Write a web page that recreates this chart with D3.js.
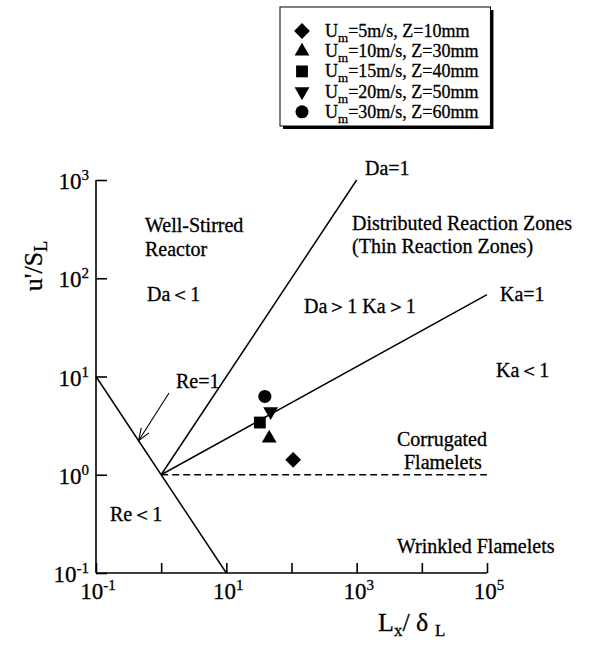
<!DOCTYPE html>
<html>
<head>
<meta charset="utf-8">
<script src="https://cdn.jsdelivr.net/npm/d3@7/dist/d3.min.js"></script>
<style>
  html, body { margin: 0; padding: 0; background: #fff; }
  svg { display: block; }
  svg text { font-family: "Liberation Serif", "Times New Roman", Times, "DejaVu Serif", serif; fill: #000; stroke: #000; stroke-width: 0.3px; }
</style>
</head>
<body>
<svg id="chart" width="611" height="646" font-family="Liberation Serif, Times New Roman, serif"></svg>
<script>
// Measurement cases: mean velocity U_m (m/s) and height Z (mm)
const speeds = [5, 10, 15, 20, 30];
const heights = [10, 30, 40, 50, 60];
const lengthRatio = [106, 45.5, 32.7, 47.8, 39];     // L_x / delta_L
const velocityRatio = [1.42, 2.35, 3.4, 4.4, 6.26];  // u' / S_L
const markers = ["diamond", "triangle", "square", "triangleDown", "circle"];

// Regime boundaries in (L_x/delta_L, u'/S_L)
const reLine = [[0.1, 10], [10, 0.1]];
const daLine = [[1, 1], [1000, 1000]];
const kaLine = [[1, 1], [1e5, 68]];
const unityLine = [[1, 1], [1e5, 1]];
const arrowTarget = [0.45, 1 / 0.45];   // point on Re=1 the arrow points to

// Axis decades
const xTickValues = [0.1, 1, 10, 100, 1000, 10000, 100000];
const xLabelExps = [-1, 1, 3, 5];
const yTickValues = [0.1, 1, 10, 100, 1000];
const yLabelExps = [-1, 0, 1, 2, 3];

const svg = d3.select("#chart");
const x = d3.scaleLog().domain([0.1, 1e5]).range([96, 487]);
const y = d3.scaleLog().domain([0.1, 1e3]).range([573, 180]);

// Axes with inward ticks
const gx = svg.append("g").attr("transform", `translate(0,${y(0.1)})`)
  .call(d3.axisBottom(x).tickValues(xTickValues).tickSize(-10).tickFormat(""));
const gy = svg.append("g").attr("transform", `translate(${x(0.1)},0)`)
  .call(d3.axisLeft(y).tickValues(yTickValues).tickSize(-11).tickFormat(""));
[gx, gy].forEach(g => {
  g.selectAll("path.domain").attr("stroke", "#000").attr("stroke-width", 1.6);
  g.selectAll(".tick line").attr("stroke", "#000").attr("stroke-width", 1.6);
});
gx.select("path.domain").attr("d", `M${x(0.1)},0H${x(1e5)}`);
gy.select("path.domain").attr("d", `M0,${y(1e3)}V${y(0.1)}`);

// Power-of-ten labels
function powerLabel(exp, px, py, anchor) {
  const t = svg.append("text").attr("x", px).attr("y", py)
    .attr("text-anchor", anchor).style("font-size", "23px");
  t.append("tspan").text("10");
  t.append("tspan").attr("dy", -9).style("font-size", "15px").text(String(exp));
  return t;
}
xLabelExps.forEach(e => powerLabel(e, x(Math.pow(10, e)) + 2, 599, "middle"));
yLabelExps.forEach(e => powerLabel(e, 89, y(Math.pow(10, e)) + 9, "end"));

// Axis titles
const yt = svg.append("text")
  .attr("transform", "translate(42,266) rotate(-90)")
  .attr("text-anchor", "middle").style("font-size", "26px");
yt.append("tspan").text("u'/S");
yt.append("tspan").attr("dy", 5).style("font-size", "18px").text("L");

const xt = svg.append("text").attr("x", 378).attr("y", 631).style("font-size", "26px");
xt.append("tspan").text("L");
xt.append("tspan").attr("dy", 5).style("font-size", "17px").text("x");
xt.append("tspan").attr("dy", -5).text("/ δ ");
xt.append("tspan").attr("dy", 5).style("font-size", "17px").text("L");

// Regime boundary lines
const line = d3.line().x(d => x(d[0])).y(d => y(d[1]));
[reLine, daLine, kaLine].forEach(seg => {
  svg.append("path").attr("d", line(seg)).attr("fill", "none")
    .attr("stroke", "#000").attr("stroke-width", 1.5);
});
svg.append("path").attr("d", line(unityLine)).attr("fill", "none")
  .attr("stroke", "#000").attr("stroke-width", 1.3).attr("stroke-dasharray", "7,4");

// Arrow pointing at the Re=1 line
const arrowTip = [x(arrowTarget[0]), y(arrowTarget[1])];
const arrowStart = [169, 393];
svg.append("line").attr("x1", arrowStart[0]).attr("y1", arrowStart[1])
  .attr("x2", arrowTip[0]).attr("y2", arrowTip[1])
  .attr("stroke", "#000").attr("stroke-width", 1.1);
{
  const ang = Math.atan2(arrowTip[1] - arrowStart[1], arrowTip[0] - arrowStart[0]);
  const len = 13, spread = 0.36;
  const p1 = [arrowTip[0] - len * Math.cos(ang - spread), arrowTip[1] - len * Math.sin(ang - spread)];
  const p2 = [arrowTip[0] - len * Math.cos(ang + spread), arrowTip[1] - len * Math.sin(ang + spread)];
  svg.append("path").attr("d", `M${p1}L${arrowTip}L${p2}`).attr("fill", "none")
    .attr("stroke", "#000").attr("stroke-width", 1.1);
}

// Region and boundary annotations
const labels = [
  ["Well-Stirred", 145, 232], ["Reactor", 145, 256], ["Da＜1", 147, 301],
  ["Distributed Reaction Zones", 352, 230], ["(Thin Reaction Zones)", 352, 253],
  ["Da＞1 Ka＞1", 304, 313], ["Da=1", 365, 175], ["Ka=1", 500, 301],
  ["Ka＜1", 496, 377], ["Corrugated", 397, 446], ["Flamelets", 404, 469],
  ["Wrinkled Flamelets", 397, 553], ["Re=1", 176, 388], ["Re＜1", 110, 521]
];
labels.forEach(([t, lx, ly]) => {
  svg.append("text").attr("x", lx).attr("y", ly).style("font-size", "20px").text(t);
});

// Marker shapes
function markerPath(kind) {
  switch (kind) {
    case "diamond": return d3.symbol(d3.symbolSquare, 125)();
    case "triangle": return d3.symbol(d3.symbolTriangle, 95)();
    case "square": return d3.symbol(d3.symbolSquare, 140)();
    case "triangleDown": return d3.symbol(d3.symbolTriangle, 95)();
    case "circle": return d3.symbol(d3.symbolCircle, 135)();
  }
}
function markerRotation(kind) {
  return kind === "diamond" ? 45 : kind === "triangleDown" ? 180 : 0;
}

svg.append("g").selectAll("path").data(d3.range(speeds.length)).join("path")
  .attr("d", i => markerPath(markers[i]))
  .attr("transform", i => `translate(${x(lengthRatio[i])},${y(velocityRatio[i])}) rotate(${markerRotation(markers[i])})`)
  .attr("fill", "#000");

// Legend box with drop shadow, sized to its entries
const lg = svg.append("g");
const shadow = lg.append("rect").attr("fill", "#000");
const frame = lg.append("rect").attr("fill", "#fff").attr("stroke", "#000").attr("stroke-width", 1);
const entries = lg.append("g");
let textRight = 0;
speeds.forEach((s, i) => {
  const ry = 31 + i * 20.2;
  entries.append("path").attr("d", markerPath(markers[i]))
    .attr("transform", `translate(302,${ry}) rotate(${markerRotation(markers[i])})`)
    .attr("fill", "#000");
  const t = entries.append("text").attr("x", 325).attr("y", ry + 6).style("font-size", "18px");
  t.append("tspan").text("U");
  t.append("tspan").attr("dy", 5).style("font-size", "13px").text("m");
  t.append("tspan").attr("dy", -5).text(`=${s}m/s, Z=${heights[i]}mm`);
  const bb = t.node().getBBox();
  textRight = Math.max(textRight, bb.x + bb.width);
});
const boxW = Math.max(190, textRight + 12 - 280);
frame.attr("x", 280).attr("y", 7).attr("width", boxW).attr("height", 119);
shadow.attr("x", 283).attr("y", 10).attr("width", boxW).attr("height", 119);
</script>
</body>
</html>
